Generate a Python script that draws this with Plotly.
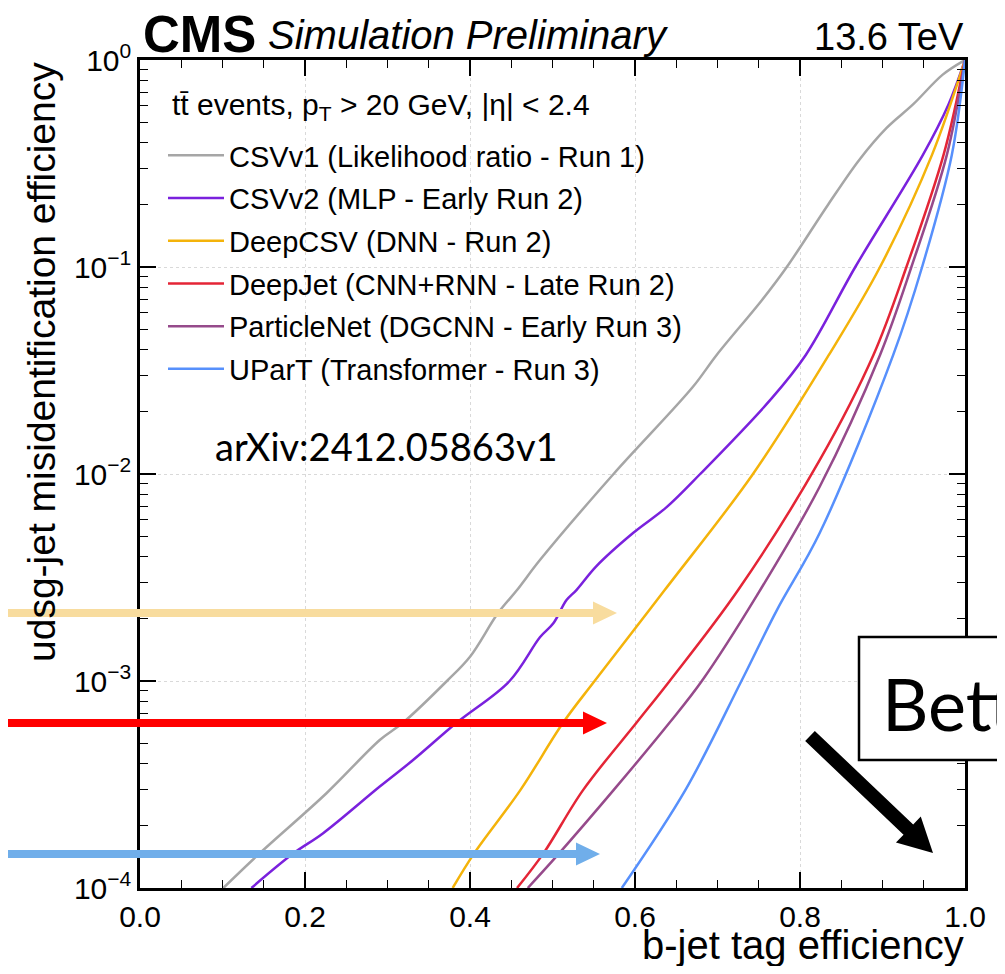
import plotly.graph_objects as go

# ---------------- data ----------------
eff_csvv1 = [0.101, 0.145, 0.226, 0.291, 0.319, 0.372, 0.400, 0.434, 0.457, 0.485, 0.574, 0.670, 0.699, 0.754, 0.784, 0.834, 0.872, 0.905, 0.937, 0.973, 1.0]
mis_csvv1 = [1.0e-4, 1.47e-4, 2.87e-4, 5.2e-4, 6.3e-4, 1.0e-3, 1.31e-3, 2.13e-3, 2.75e-3, 3.85e-3, 1.0e-2, 2.63e-2, 3.76e-2, 6.93e-2, 0.10, 0.20, 0.33, 0.47, 0.61, 0.85, 1.0]

eff_csvv2 = [0.135, 0.186, 0.222, 0.291, 0.331, 0.384, 0.448, 0.485, 0.501, 0.517, 0.529, 0.553, 0.598, 0.638, 0.679, 0.764, 0.807, 0.867, 0.949, 0.980, 1.0]
mis_csvv2 = [1.0e-4, 1.47e-4, 1.84e-4, 3.1e-4, 4.15e-4, 6.3e-4, 1.0e-3, 1.63e-3, 1.9e-3, 2.46e-3, 2.75e-3, 3.58e-3, 5.2e-3, 6.9e-3, 1.0e-2, 2.28e-2, 3.76e-2, 0.10, 0.348, 0.61, 1.0]

eff_deepcsv = [0.379, 0.405, 0.461, 0.513, 0.551, 0.636, 0.743, 0.835, 0.897, 0.960, 1.0]
mis_deepcsv = [1.0e-4, 1.47e-4, 2.97e-4, 6.3e-4, 1.0e-3, 2.75e-3, 1.0e-2, 3.76e-2, 0.10, 0.348, 1.0]

eff_deepjet = [0.457, 0.489, 0.537, 0.602, 0.642, 0.725, 0.824, 0.889, 0.929, 0.974, 1.0]
mis_deepjet = [1.0e-4, 1.47e-4, 2.97e-4, 6.3e-4, 1.0e-3, 2.75e-3, 1.17e-2, 3.76e-2, 0.10, 0.348, 1.0]

eff_pnet = [0.470, 0.508, 0.574, 0.642, 0.681, 0.748, 0.824, 0.897, 0.935, 0.978, 1.0]
mis_pnet = [1.0e-4, 1.47e-4, 2.97e-4, 6.3e-4, 1.0e-3, 2.6e-3, 8.7e-3, 3.76e-2, 0.10, 0.348, 1.0]

eff_upart = [0.584, 0.661, 0.729, 0.772, 0.824, 0.913, 0.948, 0.984, 1.0]
mis_upart = [1.0e-4, 2.97e-4, 1.0e-3, 2.2e-3, 5.2e-3, 3.76e-2, 0.10, 0.348, 1.0]

names = ["CSVv1 (Likelihood ratio - Run 1)",
         "CSVv2 (MLP - Early Run 2)",
         "DeepCSV (DNN - Run 2)",
         "DeepJet (CNN+RNN - Late Run 2)",
         "ParticleNet (DGCNN - Early Run 3)",
         "UParT (Transformer - Run 3)"]
colors = ["#a6a6a6", "#7a21dd", "#f4b30a", "#e42536", "#964a8b", "#5790fc"]
series = [(eff_csvv1, mis_csvv1), (eff_csvv2, mis_csvv2), (eff_deepcsv, mis_deepcsv),
          (eff_deepjet, mis_deepjet), (eff_pnet, mis_pnet), (eff_upart, mis_upart)]

x_ticks = [0.0, 0.2, 0.4, 0.6, 0.8, 1.0]
x_ticktext = ["0.0", "0.2", "0.4", "0.6", "0.8", "1.0"]
y_ticks = [1e-4, 1e-3, 1e-2, 1e-1, 1.0]
y_ticktext = ["10<sup>−4</sup>", "10<sup>−3</sup>", "10<sup>−2</sup>", "10<sup>−1</sup>", "10<sup>0</sup>"]
decades = [1e-4, 1e-3, 1e-2, 1e-1]
mantissas = [2, 3, 4, 5, 6, 7, 8, 9]
y_minor = [d * m for d in decades for m in mantissas]

# ---------------- geometry (page pixels; page body has an 8 px margin) ----------------
OFF = 8
W, H = 989, 958
PX0, PX1 = 140, 965      # plot area left/right in page pixels
PY0, PY1 = 60, 888       # plot area top/bottom in page pixels
PW, PH = PX1 - PX0, PY1 - PY0
L = PX0 - OFF
T = PY0 - OFF
R = W - L - PW
B = H - T - PH

def px(xp):
    return (xp - PX0) / PW

def py(yp):
    return (PY1 - yp) / PH

FONT = "Liberation Sans, Arial, Helvetica, sans-serif"
CAL = "Lato, Open Sans, sans-serif"

fig = go.Figure()
for (xs, ys), nm, col in zip(series, names, colors):
    fig.add_trace(go.Scatter(x=xs, y=ys, mode="lines", name=nm, legendgroup=nm,
                             line=dict(color=col, width=2.5, shape="spline", smoothing=1.0)))

def arrow_path(x0, y0, x1, y1, sw, hl, hw):
    dx, dy = x1 - x0, y1 - y0
    n = (dx * dx + dy * dy) ** 0.5
    ux, uy = dx / n, dy / n
    nx, ny = -uy, ux
    bx, by = x1 - ux * hl, y1 - uy * hl
    pts = [(x0 + nx * sw / 2, y0 + ny * sw / 2),
           (bx + nx * sw / 2, by + ny * sw / 2),
           (bx + nx * hw / 2, by + ny * hw / 2),
           (x1, y1),
           (bx - nx * hw / 2, by - ny * hw / 2),
           (bx - nx * sw / 2, by - ny * sw / 2),
           (x0 - nx * sw / 2, y0 - ny * sw / 2)]
    return "M " + " L ".join(f"{px(a):.5f},{py(b):.5f}" for a, b in pts) + " Z"

shapes = []
for (yy, tip, col) in [(613, 617, "#f8dc9e"), (723, 607, "#ff0000"), (854, 600, "#70aeea")]:
    shapes.append(dict(type="path", xref="paper", yref="paper", layer="above",
                       path=arrow_path(0, yy, tip, yy, 8, 24, 23),
                       fillcolor=col, line=dict(width=0)))
# "Better" box
shapes.append(dict(type="rect", xref="paper", yref="paper", layer="above",
                   x0=px(859), x1=px(1100), y0=py(760), y1=py(637),
                   fillcolor="white", line=dict(color="black", width=2.5)))
# black arrow
shapes.append(dict(type="path", xref="paper", yref="paper", layer="above",
                   path=arrow_path(810, 736, 933, 853, 14, 34, 36),
                   fillcolor="black", line=dict(width=0)))

def ann(text, x, y, xanchor, size, family=FONT, angle=0, yanchor="middle"):
    return dict(text=text, x=px(x), y=py(y), xref="paper", yref="paper",
                xanchor=xanchor, yanchor=yanchor, showarrow=False, textangle=angle,
                font=dict(family=family, size=size, color="black"))

annotations = [
    ann("<b>CMS</b>", 141, 34, "left", 51),
    ann("<i>Simulation Preliminary</i>", 266, 35, "left", 40),
    ann("13.6 TeV", 966, 37, "right", 38),
    ann("udsg-jet misidentification efficiency", 42, 362, "center", 39, angle=-90),
    ann("b-jet tag efficiency", 966, 945, "right", 40),
    ann("tt\u0304 events, p<sub>T</sub> > 20 GeV, |η| < 2.4", 170, 106, "left", 30),
    ann("arXiv:2412.05863v1", 213, 446, "left", 38, family=CAL),
    ann("Better", 880, 703, "left", 72, family=CAL),
]

axis_common = dict(showline=True, linecolor="black", linewidth=2.5, mirror="ticks",
                   ticks="inside", ticklen=16, tickwidth=1.5, tickcolor="black",
                   showgrid=True, gridcolor="#d9d9d9", griddash="dot", gridwidth=1,
                   zeroline=False, tickfont=dict(family=FONT, size=30, color="black"))

fig.update_layout(
    width=W, height=H, autosize=False,
    margin=dict(l=L, r=R, t=T, b=B),
    paper_bgcolor="white", plot_bgcolor="white",
    xaxis=dict(range=[0, 1], tickmode="array", tickvals=x_ticks, ticktext=x_ticktext,
               minor=dict(ticks="inside", ticklen=8, tickwidth=1.2, tickcolor="black",
                          dtick=0.05, showgrid=False),
               **axis_common),
    yaxis=dict(type="log", range=[-4, 0], tickmode="array", tickvals=y_ticks, ticktext=y_ticktext,
               minor=dict(ticks="inside", ticklen=8, tickwidth=1.2, tickcolor="black",
                          tickmode="array", tickvals=y_minor, showgrid=False),
               **axis_common),
    legend=dict(x=px(163), y=py(130), xanchor="left", yanchor="top",
                bgcolor="rgba(0,0,0,0)", borderwidth=0, tracegroupgap=2,
                traceorder="grouped", itemwidth=56,
                font=dict(family=FONT, size=29, color="black")),
    shapes=shapes,
    annotations=annotations,
    showlegend=True,
)

fig.write_html("out.html")
